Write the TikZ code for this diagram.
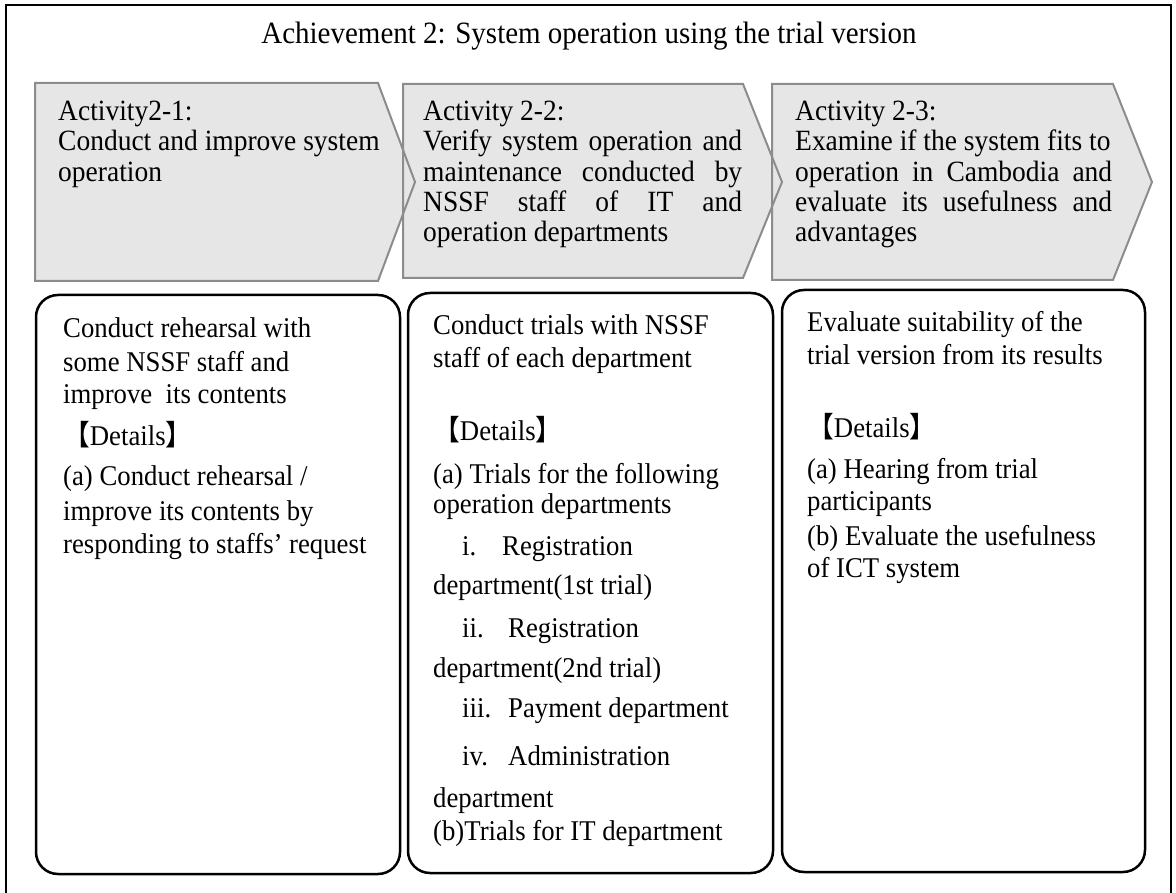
\documentclass[tikz,border=0pt]{standalone}
\usepackage{fontspec}
\setmainfont{Liberation Serif}[FakeStretch=0.935]
\newfontfamily\cjk{Noto Sans CJK JP}[FakeStretch=0.935]
\definecolor{stagefill}{HTML}{E6E6E6}
\definecolor{stageline}{HTML}{8C8C8C}
\tikzset{
  frame/.style={draw=black, line width=2pt},
  stageshape/.style={draw=stageline, line width=2pt, line join=miter},
  panel/.style={draw=black, line width=2.5pt, rounded corners=22pt},
  ttl/.style={font=\fontsize{31}{36}\selectfont, anchor=base, inner sep=0pt},
  atxt/.style={font=\fontsize{29.4}{32}\selectfont, anchor=base west, inner sep=0pt},
  btxt/.style={font=\fontsize{28.6}{34}\selectfont, anchor=base west, inner sep=0pt},
}
\newcommand{\jline}[2]{\makebox[#1pt][s]{#2}}
\newcommand{\dethead}{{\cjk 【}Details{\cjk 】}}
\begin{document}
\begin{tikzpicture}[x=1pt,y=-1pt]
\useasboundingbox (0,0) rectangle (1176,893);

% outer frame (open at the bottom edge of the page)
\draw[frame] (6,910) -- (6,5) -- (1171,5) -- (1171,910);

% title
\node[ttl] (title) at (589,44) {Achievement 2: System operation using the trial version};

% activity chevrons: fills first, then outlines
\coordinate (a1nw) at (35,83);   \coordinate (a1ne) at (378,83);  \coordinate (a1tip) at (415,182);
\coordinate (a1se) at (378,281); \coordinate (a1sw) at (35,281);
\coordinate (a2nw) at (403,84);  \coordinate (a2ne) at (743,84);  \coordinate (a2tip) at (782,182);
\coordinate (a2se) at (743,278); \coordinate (a2sw) at (403,278);
\coordinate (a3nw) at (772,84);  \coordinate (a3ne) at (1113,84); \coordinate (a3tip) at (1152,182);
\coordinate (a3se) at (1113,280);\coordinate (a3sw) at (772,280);

\fill[stagefill] (a1nw) -- (a1ne) -- (a1tip) -- (a1se) -- (a1sw) -- cycle;
\fill[stagefill] (a2nw) -- (a2ne) -- (a2tip) -- (a2se) -- (a2sw) -- cycle;
\fill[stagefill] (a3nw) -- (a3ne) -- (a3tip) -- (a3se) -- (a3sw) -- cycle;
\draw[stageshape] (a1nw) -- (a1ne) -- (a1tip) -- (a1se) -- (a1sw) -- cycle;
\draw[stageshape] (a2nw) -- (a2ne) -- (a2tip) -- (a2se) -- (a2sw) -- cycle;
\draw[stageshape] (a3nw) -- (a3ne) -- (a3tip) -- (a3se) -- (a3sw) -- cycle;

% activity 2-1
\node[atxt] (a1l1) at (58,121)   {Activity2-1:};
\node[atxt] (a1l2) at (58,151)   {Conduct and improve system};
\node[atxt] (a1l3) at (58,181.5) {operation};

% activity 2-2
\node[atxt] (a2l1) at (423,121)   {Activity 2-2:};
\node[atxt] (a2l2) at (423,151)   {\jline{319}{Verify system operation and}};
\node[atxt] (a2l3) at (423,181.5) {\jline{319}{maintenance conducted by}};
\node[atxt] (a2l4) at (423,212)   {\jline{319}{NSSF staff of IT and}};
\node[atxt] (a2l5) at (423,242)   {operation departments};

% activity 2-3
\node[atxt] (a3l1) at (795,121)   {Activity 2-3:};
\node[atxt] (a3l2) at (795,151)   {Examine if the system fits to};
\node[atxt] (a3l3) at (795,181.5) {\jline{317}{operation in Cambodia and}};
\node[atxt] (a3l4) at (795,212)   {\jline{317}{evaluate its usefulness and}};
\node[atxt] (a3l5) at (795,242)   {advantages};

% detail panels
\draw[panel] (36,295) rectangle (400,874);
\draw[panel] (408,293) rectangle (773,873);
\draw[panel] (782,290) rectangle (1145,872);

% panel 1
\node[btxt] (p1l1) at (63,338) {Conduct rehearsal with};
\node[btxt] (p1l2) at (63,372) {some NSSF staff and};
\node[btxt] (p1l3) at (63,403) {improve\ \ its contents};
\node[btxt] (p1l4) at (63,445) {\dethead};
\node[btxt] (p1l5) at (63,485) {(a) Conduct rehearsal /};
\node[btxt] (p1l6) at (63,520) {improve its contents by};
\node[btxt] (p1l7) at (63,553) {responding to staffs’ request};

% panel 2
\node[btxt] (p2l1)  at (433,335) {Conduct trials with NSSF};
\node[btxt] (p2l2)  at (433,368) {staff of each department};
\node[btxt] (p2l3)  at (433,440) {\dethead};
\node[btxt] (p2l4)  at (433,483) {(a) Trials for the following};
\node[btxt] (p2l5)  at (433,513) {operation departments};
\node[btxt] (p2n1)  at (462,555) {i.};
\node[btxt] (p2l6)  at (502,555) {Registration};
\node[btxt] (p2l7)  at (433,594) {department(1st trial)};
\node[btxt] (p2n2)  at (462,637) {ii.};
\node[btxt] (p2l8)  at (508,637) {Registration};
\node[btxt] (p2l9)  at (433,677) {department(2nd trial)};
\node[btxt] (p2n3)  at (462,717) {iii.};
\node[btxt] (p2l10) at (508,717) {Payment department};
\node[btxt] (p2n4)  at (462,765) {iv.};
\node[btxt] (p2l11) at (508,765) {Administration};
\node[btxt] (p2l12) at (433,807) {department};
\node[btxt] (p2l13) at (433,840) {(b)Trials for IT department};

% panel 3
\node[btxt] (p3l1) at (807,332) {Evaluate suitability of the};
\node[btxt] (p3l2) at (807,365) {trial version from its results};
\node[btxt] (p3l3) at (807,437) {\dethead};
\node[btxt] (p3l4) at (807,478) {(a) Hearing from trial};
\node[btxt] (p3l5) at (807,510) {participants};
\node[btxt] (p3l6) at (807,545) {(b) Evaluate the usefulness};
\node[btxt] (p3l7) at (807,577) {of ICT system};
\end{tikzpicture}
\end{document}
